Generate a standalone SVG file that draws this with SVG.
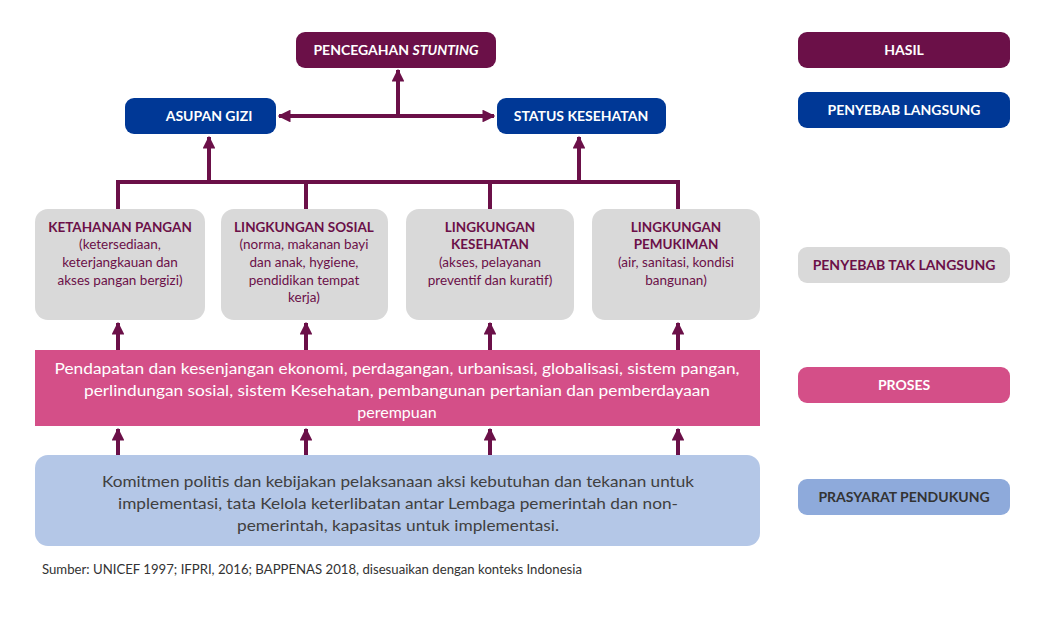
<svg xmlns="http://www.w3.org/2000/svg" width="1043" height="619" viewBox="0 0 1043 619">
<defs>
<marker id="ah" viewBox="0 0 10 10" refX="9" refY="5" markerWidth="3.2" markerHeight="3.2" orient="auto-start-reverse" markerUnits="strokeWidth">
<path d="M0,0 L10,5 L0,10 z" fill="#6b1048"/>
</marker>
<style>
.t{font-family:Lato,"Liberation Sans",sans-serif;text-anchor:middle}
.b{font-weight:bold;font-size:14px;fill:#fff}
.g{font-size:13.5px;fill:#6b1048}
.gb{font-size:13.5px;font-weight:bold;fill:#6b1048}
.ln{stroke:#6b1048;stroke-width:4;fill:none}
.ar{stroke:#6b1048;stroke-width:4;fill:none;marker-end:url(#ah)}
</style>
</defs>
<rect width="1043" height="619" fill="#fff"/>
<g id="connectors">
<path class="ar" d="M398,116 V70"/>
<path class="ar" d="M398,116 H279" stroke-width="3"/>
<path class="ar" d="M398,116 H494" stroke-width="3"/>
<path class="ar" d="M209,182 V137"/>
<path class="ar" d="M579,182 V137"/>
<path class="ln" d="M118,209 V182 H678 V209"/>
<path class="ln" d="M306,182 V209"/>
<path class="ln" d="M490,182 V209"/>
<path class="ar" d="M118,350 V323"/>
<path class="ar" d="M306,350 V323"/>
<path class="ar" d="M490,350 V323"/>
<path class="ar" d="M678,350 V323"/>
<path class="ar" d="M118,455 V429"/>
<path class="ar" d="M306,455 V429"/>
<path class="ar" d="M490,455 V429"/>
<path class="ar" d="M678,455 V429"/>
</g>
<g id="hasil-main">
<rect x="296" y="32" width="200" height="36" rx="9" fill="#6b1048"/>
<text class="t b" x="396" y="55">PENCEGAHAN <tspan font-style="italic">STUNTING</tspan></text>
</g>
<g id="asupan">
<rect x="125" y="98" width="151" height="36" rx="9" fill="#003896"/>
<text class="t b" x="209" y="121">ASUPAN GIZI</text>
</g>
<g id="status">
<rect x="497" y="98" width="169" height="36" rx="9" fill="#003896"/>
<text class="t b" x="581" y="121">STATUS KESEHATAN</text>
</g>
<g id="ketahanan">
<rect x="35" y="209" width="170" height="111" rx="13" fill="#d9d9d9"/>
<text class="t gb" x="120" y="232">KETAHANAN PANGAN</text>
<text class="t g" x="120" y="249">(ketersediaan,</text>
<text class="t g" x="120" y="267">keterjangkauan dan</text>
<text class="t g" x="120" y="285">akses pangan bergizi)</text>
</g>
<g id="sosial">
<rect x="221" y="209" width="167" height="111" rx="13" fill="#d9d9d9"/>
<text class="t gb" x="304" y="232">LINGKUNGAN SOSIAL</text>
<text class="t g" x="304" y="249">(norma, makanan bayi</text>
<text class="t g" x="304" y="267">dan anak, hygiene,</text>
<text class="t g" x="304" y="285">pendidikan tempat</text>
<text class="t g" x="304" y="302">kerja)</text>
</g>
<g id="kesehatan">
<rect x="406" y="209" width="168" height="111" rx="13" fill="#d9d9d9"/>
<text class="t gb" x="490" y="232">LINGKUNGAN</text>
<text class="t gb" x="490" y="249">KESEHATAN</text>
<text class="t g" x="490" y="267">(akses, pelayanan</text>
<text class="t g" x="490" y="285">preventif dan kuratif)</text>
</g>
<g id="pemukiman">
<rect x="592" y="209" width="168" height="111" rx="13" fill="#d9d9d9"/>
<text class="t gb" x="676" y="232">LINGKUNGAN</text>
<text class="t gb" x="676" y="249">PEMUKIMAN</text>
<text class="t g" x="676" y="267">(air, sanitasi, kondisi</text>
<text class="t g" x="676" y="285">bangunan)</text>
</g>
<g id="proses-main">
<rect x="35" y="350" width="725" height="76" fill="#d44f88"/>
<text class="t" x="397" y="374" font-size="16" fill="#fff" textLength="685" lengthAdjust="spacingAndGlyphs">Pendapatan dan kesenjangan ekonomi, perdagangan, urbanisasi, globalisasi, sistem pangan,</text>
<text class="t" x="397" y="396" font-size="16" fill="#fff" textLength="626" lengthAdjust="spacingAndGlyphs">perlindungan sosial, sistem Kesehatan, pembangunan pertanian dan pemberdayaan</text>
<text class="t" x="397" y="418" font-size="16" fill="#fff">perempuan</text>
</g>
<g id="prasyarat-main">
<rect x="35" y="455" width="725" height="91" rx="13" fill="#b4c7e7"/>
<text class="t" x="398" y="487" font-size="16" fill="#404040" textLength="592" lengthAdjust="spacingAndGlyphs">Komitmen politis dan kebijakan pelaksanaan aksi kebutuhan dan tekanan untuk</text>
<text class="t" x="398" y="509" font-size="16" fill="#404040" textLength="560" lengthAdjust="spacingAndGlyphs">implementasi, tata Kelola keterlibatan antar Lembaga pemerintah dan non-</text>
<text class="t" x="398" y="531" font-size="16" fill="#404040" textLength="322" lengthAdjust="spacingAndGlyphs">pemerintah, kapasitas untuk implementasi.</text>
</g>
<g id="source">
<text x="42" y="574" font-family="Lato,'Liberation Sans',sans-serif" font-size="12.5" fill="#333" textLength="540" lengthAdjust="spacingAndGlyphs">Sumber: UNICEF 1997; IFPRI, 2016; BAPPENAS 2018, disesuaikan dengan konteks Indonesia</text>
</g>
<g id="legend-hasil">
<rect x="798" y="32" width="212" height="36" rx="9" fill="#6b1048"/>
<text class="t b" x="904" y="55">HASIL</text>
</g>
<g id="legend-langsung">
<rect x="798" y="92" width="212" height="36" rx="9" fill="#003896"/>
<text class="t b" x="904" y="115">PENYEBAB LANGSUNG</text>
</g>
<g id="legend-tak-langsung">
<rect x="798" y="247" width="212" height="36" rx="9" fill="#d9d9d9"/>
<text class="t b" x="904" y="270" style="fill:#6b1048">PENYEBAB TAK LANGSUNG</text>
</g>
<g id="legend-proses">
<rect x="798" y="367" width="212" height="36" rx="9" fill="#d44f88"/>
<text class="t b" x="904" y="390">PROSES</text>
</g>
<g id="legend-prasyarat">
<rect x="798" y="479" width="212" height="36" rx="9" fill="#8eaadb"/>
<text class="t b" x="904" y="502" style="fill:#333">PRASYARAT PENDUKUNG</text>
</g>
</svg>
